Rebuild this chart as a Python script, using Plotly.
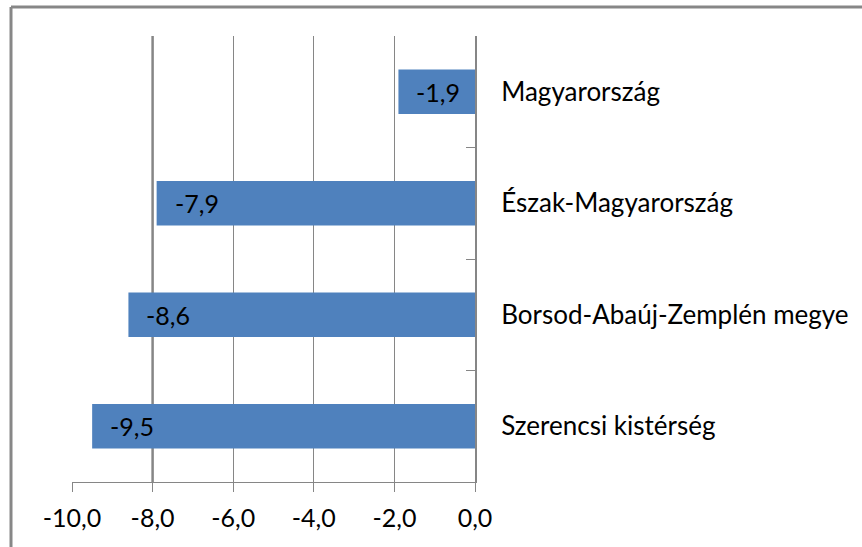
import plotly.graph_objects as go

categories = ["Magyarország", "Észak-Magyarország", "Borsod-Abaúj-Zemplén megye", "Szerencsi kistérség"]
values = [-1.9, -7.9, -8.6, -9.5]
value_labels = ["-1,9", "-7,9", "-8,6", "-9,5"]
x_tickvals = [-10, -8, -6, -4, -2, 0]
x_ticktext = ["-10,0", "-8,0", "-6,0", "-4,0", "-2,0", "0,0"]

FONT = "Lato, Open Sans, sans-serif"
GRID = "#868686"
BAR = "#4F81BD"

fig = go.Figure()
fig.add_trace(go.Bar(
    y=categories, x=values, orientation="h",
    marker=dict(color=BAR, line=dict(width=0)),
    hoverinfo="skip",
))

for c, v, t in zip(categories, values, value_labels):
    fig.add_annotation(x=v, y=c, text=t, showarrow=False, xanchor="left",
                       xshift=16, font=dict(family=FONT, size=25, color="#000000"))

W, H = 862, 547
L, R, T, B = 72, 862 - 475, 36, 547 - 482
pw, ph = W - L - R, H - T - B

# chart border (left & top visible)
fig.add_shape(type="line", xref="paper", yref="paper",
              x0=(11 - L) / pw, x1=(W + 20 - L) / pw,
              y0=1 + (T - 7) / ph, y1=1 + (T - 7) / ph,
              line=dict(color="#878787", width=3))
fig.add_shape(type="line", xref="paper", yref="paper",
              x0=(11 - L) / pw, x1=(11 - L) / pw,
              y0=1 + (T - 7) / ph, y1=-(B + 20) / ph,
              line=dict(color="#878787", width=3))
# heavier gridline at -8 as rendered in the reference
fig.add_shape(type="line", xref="x", yref="paper", x0=-8, x1=-8, y0=0, y1=1,
              line=dict(color=GRID, width=2.5), layer="below")

fig.update_layout(
    width=W, height=H,
    margin=dict(l=L, r=R, t=T, b=B, pad=0),
    paper_bgcolor="white", plot_bgcolor="white",
    bargap=0.6,
    showlegend=False,
    font=dict(family=FONT, size=24, color="#000000"),
    xaxis=dict(
        range=[-10, 0], tickvals=x_tickvals, ticktext=x_ticktext,
        showgrid=True, gridcolor=GRID, gridwidth=1,
        zeroline=False,
        showline=True, linecolor=GRID, linewidth=1,
        ticks="outside", ticklen=9, tickcolor=GRID, tickwidth=1,
        ticklabelstandoff=5,
        tickfont=dict(family=FONT, size=25, color="#000000"),
        fixedrange=True,
    ),
    yaxis=dict(
        categoryorder="array", categoryarray=categories[::-1],
        side="right", showgrid=False, zeroline=False,
        showline=True, linecolor=GRID, linewidth=2,
        ticks="inside", ticklen=9, tickcolor=GRID, tickwidth=1,
        tickson="boundaries",
        ticklabelstandoff=19,
        tickfont=dict(family=FONT, size=26, color="#000000"),
        fixedrange=True,
    ),
)

fig.write_html("out.html", config={"displayModeBar": False},
               post_script="document.body.style.margin='0';document.body.style.overflow='hidden';")
